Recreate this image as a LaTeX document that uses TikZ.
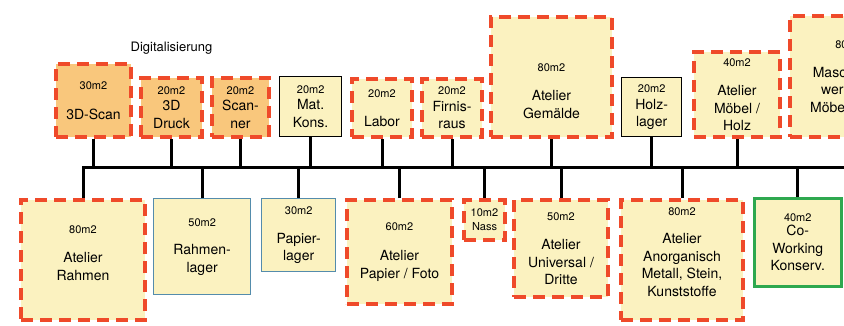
\documentclass[tikz,border=0pt]{standalone}
\usepackage{fontspec}
\setmainfont{TeX Gyre Heros}
\usepackage{tikz}
\usetikzlibrary{positioning}

\definecolor{roomyellow}{RGB}{251,242,192}
\definecolor{digiorange}{RGB}{249,199,124}
\definecolor{dashred}{RGB}{239,74,42}
\definecolor{storeblue}{RGB}{84,140,172}
\definecolor{coworkgreen}{RGB}{46,168,79}

\newcommand{\areafont}{\fontsize{11}{13}\selectfont}
\newcommand{\area}[1]{{\areafont #1}}

\begin{document}
\begin{tikzpicture}[
  x=1pt, y=-1pt,
  every node/.style={font=\fontsize{14}{17.5}\selectfont},
  room/.style={
    rectangle, align=center, inner sep=0pt, fill=roomyellow,
    anchor=north west
  },
  dims/.style 2 args={minimum width=#1, minimum height=#2},
  atelier/.style={room, draw=dashred, line width=4pt, dash pattern=on 12pt off 7pt},
  digital/.style={atelier, fill=digiorange},
  solidroom/.style={room, draw=black, line width=1.3pt},
  storage/.style={room, draw=storeblue, line width=1.3pt},
  cowork/.style={room, draw=coworkgreen, line width=2.5pt},
  link/.style={line width=3pt, black}
]
\useasboundingbox (0,0) rectangle (844,325);
\clip (0,0) rectangle (844,325);

% --- upper row ---
\node[digital, dims={75}{73}] (scan) at (54,62) {\area{30m2}\\[12pt]3D-Scan};
\node[digital, dims={61}{59}] (druck) at (139,76) {\area{20m2}\\[-1pt]3D\\Druck};
\node[digital, dims={57}{59}] (scanner) at (210,76) {\area{20m2}\\[-1pt]Scan-\\ner};
\node[solidroom, dims={62}{60}] (matkons) at (279,76) {\area{20m2}\\[-1pt]Mat.\\Kons.};
\node[atelier, dims={60}{58}] (labor) at (350,77) {\area{20m2}\\[12pt]Labor};
\node[atelier, dims={60}{58}] (firnis) at (420,77) {\area{20m2}\\[-1pt]Firnis-\\raus};
\node[atelier, dims={121}{120}] (gemaelde) at (489,15) {\mbox{}\\[18pt]\area{80m2}\\[12pt]Atelier\\Gemälde};
\node[solidroom, dims={60}{59}] (holzlager) at (621,77) {\area{20m2}\\[-1pt]Holz-\\lager};
\node[atelier, dims={86}{85}] (moebel) at (692,50) {\area{40m2}\\[12pt]Atelier\\Möbel /\\Holz};
\node[atelier, dims={118}{121}] (maschinen) at (788,14) {\area{80m2}\\[11pt]Maschinen-\\werkstatt\\Möbel / Holz};

\node[above=18pt of druck, font=\fontsize{13}{15}\selectfont] (digi) {Digitalisierung};

% --- lower row ---
\node[atelier, dims={124}{120}] (rahmen) at (19,198) {\area{80m2}\\[12pt]Atelier\\Rahmen\\[-3.5pt]\mbox{}};
\node[storage, dims={97}{96}] (rahmenlager) at (153,198) {\area{50m2}\\[11pt]Rahmen-\\lager};
\node[storage, dims={74}{73}] (papierlager) at (261,198) {\area{30m2}\\[11pt]Papier-\\lager};
\node[atelier, dims={105}{104}] (papierfoto) at (345,198) {\area{60m2}\\[13pt]Atelier\\Papier / Foto};
\node[atelier, dims={41}{40}, font=\fontsize{11}{14}\selectfont] (nass) at (462,198) {10m2\\Nass};
\node[atelier, dims={94}{97}] (universal) at (512,198) {\area{50m2}\\[12pt]Atelier\\Universal /\\Dritte};
\node[atelier, dims={122}{120}] (anorganisch) at (619,198) {\area{80m2}\\[11pt]Atelier\\Anorganisch\\Metall, Stein,\\Kunststoffe\\[-1.5pt]\mbox{}};
\node[cowork, dims={87}{88}] (cowork) at (753,197) {\area{40m2}\\[-3pt]Co-\\Working\\Konserv.};

% --- bus ---
\coordinate (busend) at (844,167);
\draw[link] (rahmen.north) |- (busend);
\foreach \toproom in {scan,druck,scanner,matkons,labor,firnis,gemaelde,holzlager,moebel}
  \draw[link] (\toproom.south) -- (\toproom.south |- busend);
\foreach \botroom in {rahmenlager,papierlager,papierfoto,nass,universal,anorganisch,cowork}
  \draw[link] (\botroom.north) -- (\botroom.north |- busend);

\end{tikzpicture}
\end{document}
